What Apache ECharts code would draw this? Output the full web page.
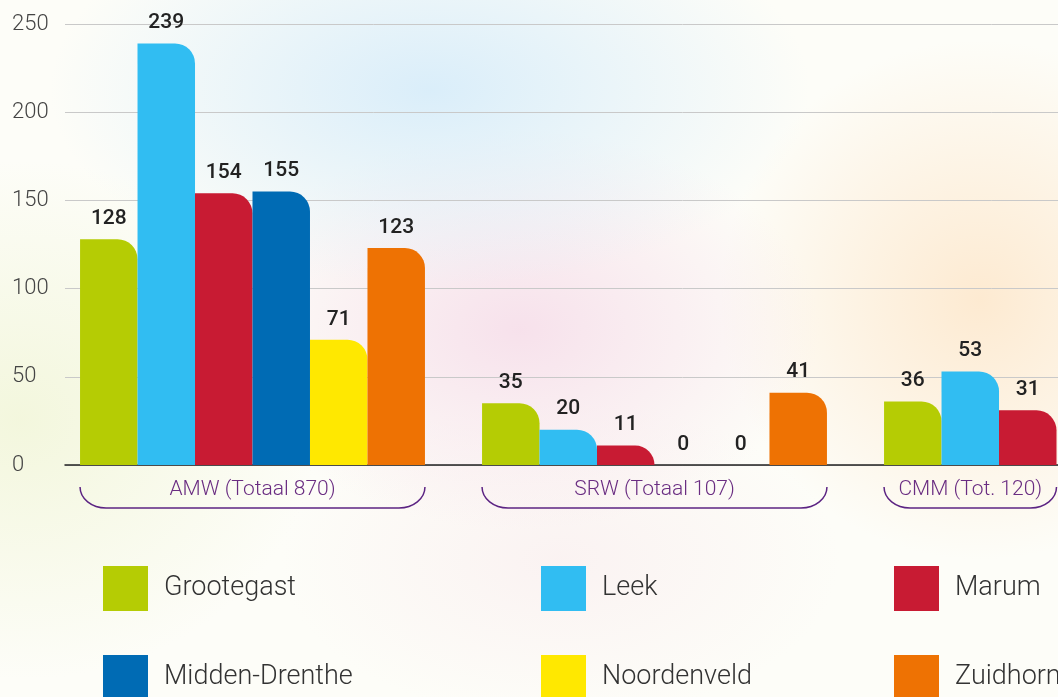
<!DOCTYPE html>
<html>
<head>
<meta charset="utf-8">
<script src="https://cdn.jsdelivr.net/npm/echarts@6/dist/echarts.min.js"></script>
<style>
  html, body {
    margin: 0;
    padding: 0;
    width: 1058px;
    height: 697px;
    overflow: hidden;
    background:
      radial-gradient(ellipse 380px 200px at 430px 90px, rgba(214, 236, 250, 0.9), rgba(214, 236, 250, 0)),
      radial-gradient(ellipse 300px 200px at 520px 330px, rgba(246, 222, 234, 0.9), rgba(246, 222, 234, 0)),
      radial-gradient(ellipse 260px 260px at 980px 300px, rgba(253, 232, 205, 0.9), rgba(253, 232, 205, 0)),
      radial-gradient(ellipse 300px 260px at 20px 420px, rgba(242, 246, 218, 0.9), rgba(242, 246, 218, 0)),
      radial-gradient(ellipse 280px 160px at 560px 560px, rgba(248, 232, 236, 0.5), rgba(248, 232, 236, 0)),
      #fdfdf8;
  }
  #chart { width: 1300px; height: 780px; }
</style>
</head>
<body>
<div id="chart"></div>
<script>
// categorieen (groepen)
var categories = ['AMW (Totaal 870)', 'SRW (Totaal 107)', 'CMM (Tot. 120)'];
// gemeenten
var names = ['Grootegast', 'Leek', 'Marum', 'Midden-Drenthe', 'Noordenveld', 'Zuidhorn'];
var colors = ['#b5cc04', '#31bdf2', '#c81b33', '#006bb4', '#ffe800', '#ee7203'];
// waarden per gemeente: AMW, SRW, CMM
var grootegast = [128, 35, 36];
var leek = [239, 20, 53];
var marum = [154, 11, 31];
var middenDrenthe = [155, 0, null];
var noordenveld = [71, 0, null];
var zuidhorn = [123, 41, null];
var yTicks = [0, 50, 100, 150, 200, 250];

var values = [grootegast, leek, marum, middenDrenthe, noordenveld, zuidhorn];
var gapRatio = 0.142;

var chart = echarts.init(document.getElementById('chart'));

var barSeries = names.map(function (n, i) {
  return {
    name: n,
    type: 'bar',
    xAxisIndex: 1,
    yAxisIndex: 1,
    barGap: '0%',
    barCategoryGap: (gapRatio * 100) + '%',
    data: values[i],
    itemStyle: {
      color: colors[i],
      borderRadius: [0, 20, 0, 0]
    },
    label: {
      show: true,
      position: 'top',
      distance: 10,
      fontFamily: 'Roboto',
      fontSize: 21,
      fontWeight: 500,
      color: '#222'
    }
  };
});

// aantal balken per groep (voor de accolade)
var counts = categories.map(function (c, ci) {
  var n = 0;
  values.forEach(function (v) { if (v[ci] !== null) n++; });
  return [ci, n];
});

var bracketSeries = {
  type: 'custom',
  xAxisIndex: 1,
  yAxisIndex: 1,
  silent: true,
  clip: false,
  data: counts,
  renderItem: function (params, api) {
    var idx = api.value(0), n = api.value(1);
    var c = api.coord([idx, 0]);
    var band = api.size([1, 0])[0];
    var bw = band * (1 - gapRatio) / 6;
    var x0 = c[0] - 3 * bw, x1 = x0 + n * bw;
    var yTop = c[1] + 22, yBot = c[1] + 43, rx = 26, ry = 21;
    var d = 'M' + x0 + ' ' + yTop +
      ' A' + rx + ' ' + ry + ' 0 0 0 ' + (x0 + rx) + ' ' + yBot +
      ' L' + (x1 - rx) + ' ' + yBot +
      ' A' + rx + ' ' + ry + ' 0 0 0 ' + x1 + ' ' + yTop;
    return {
      type: 'group',
      children: [{
        type: 'path',
        shape: { pathData: d },
        style: { fill: null, stroke: '#5c2483', lineWidth: 1.5 }
      }, {
        type: 'text',
        x: (x0 + x1) / 2,
        y: c[1] + 25,
        style: {
          text: categories[params.dataIndex],
          align: 'center',
          verticalAlign: 'middle',
          fontFamily: 'Roboto',
          fontSize: 21,
          fontWeight: 300,
          fill: '#6a2d82'
        }
      }]
    };
  }
};

var legendBase = {
  orient: 'vertical',
  top: 566,
  padding: 0,
  itemWidth: 45,
  itemHeight: 45,
  itemGap: 44,
  icon: 'rect',
  selectedMode: false,
  textStyle: { fontFamily: 'Roboto', fontSize: 27, fontWeight: 300, color: '#333', padding: [8, 0, 0, 11] }
};

chart.setOption({
  animation: false,
  grid: [
    { left: 65, top: 24, height: 441, width: 1235 },
    { left: 51.5, top: 24, height: 441, width: 1206 }
  ],
  legend: [
    Object.assign({ left: 103, data: [names[0], names[3]] }, legendBase),
    Object.assign({ left: 541, data: [names[1], names[4]] }, legendBase),
    Object.assign({ left: 894, data: [names[2], names[5]] }, legendBase)
  ],
  xAxis: [{
    gridIndex: 0,
    type: 'category',
    data: [''],
    axisLine: { lineStyle: { color: '#222', width: 1.5 } },
    axisTick: { show: false },
    axisLabel: { show: false }
  }, {
    gridIndex: 1,
    type: 'category',
    data: categories,
    show: false
  }],
  yAxis: [{
    gridIndex: 0,
    type: 'value',
    min: yTicks[0],
    max: yTicks[yTicks.length - 1],
    interval: 50,
    axisLine: { show: false },
    axisTick: { show: false },
    axisLabel: {
      align: 'left',
      margin: 53,
      fontFamily: 'Roboto',
      fontSize: 22,
      fontWeight: 300,
      color: '#444'
    },
    splitLine: { lineStyle: { color: '#c9c9c9', width: 1 } }
  }, {
    gridIndex: 1,
    type: 'value',
    min: yTicks[0],
    max: yTicks[yTicks.length - 1],
    interval: 50,
    show: false,
    splitLine: { show: false }
  }],
  series: barSeries.concat([bracketSeries])
});
</script>
</body>
</html>
